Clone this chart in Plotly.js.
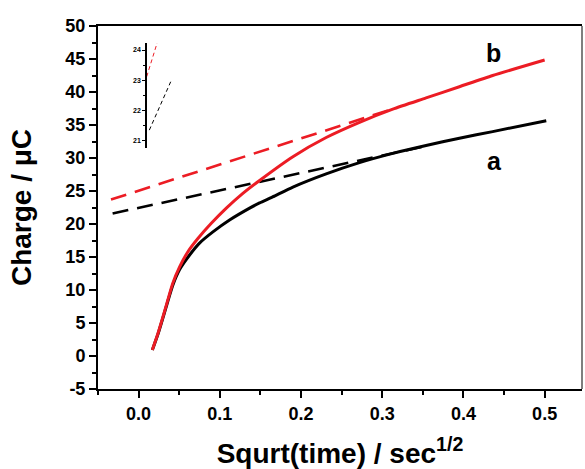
<!DOCTYPE html>
<html>
<head>
<meta charset="utf-8">
<script src="https://cdn.plot.ly/plotly-3.0.1.min.js"></script>
<style>html,body{margin:0;padding:0;background:#fff;}#chart{width:585px;height:469px;}</style>
</head>
<body>
<div id="chart"></div>
<script>
// Curve a (black) : charge vs sqrt(time)
const aX = [0.0169, 0.0238, 0.030, 0.036, 0.042, 0.0505, 0.0628, 0.075, 0.0915, 0.112, 0.1367, 0.149, 0.165, 0.190, 0.231, 0.272, 0.313, 0.354, 0.395, 0.436, 0.502];
const aY = [0.91, 3.3, 5.8, 8.3, 10.7, 13.1, 15.3, 17.1, 18.8, 20.6, 22.4, 23.2, 24.1, 25.6, 27.6, 29.3, 30.7, 31.9, 33.0, 34.0, 35.65];
// Curve b (red)
const bX = [0.0169, 0.0238, 0.030, 0.036, 0.042, 0.0505, 0.0607, 0.073, 0.0895, 0.108, 0.128, 0.149, 0.190, 0.231, 0.272, 0.313, 0.354, 0.395, 0.436, 0.500];
const bY = [0.91, 3.4, 5.95, 8.5, 11.0, 13.5, 15.8, 17.8, 20.1, 22.4, 24.6, 26.6, 30.2, 33.1, 35.4, 37.4, 39.1, 40.8, 42.5, 44.85];
// Linear fits (dashed)
const aFitX = [-0.032, 0.350];
const aFitY = [21.6, 31.7];
const bFitX = [-0.034, 0.317];
const bFitY = [23.7, 37.6];
// Inset: zoom on intercepts
const insetRedX = [0, 0.35];
const insetRedY = [23.12, 24.24];
const insetBlackX = [0.087, 0.8];
const insetBlackY = [21.35, 22.95];
// Tick labels
const yTickVals = [-5, 0, 5, 10, 15, 20, 25, 30, 35, 40, 45, 50];
const yTickText = ['-5', '0', '5', '10', '15', '20', '25', '30', '35', '40', '45', '50'];
// Labels
const labelText = ['a', 'b'];
const labelX = [0.438, 0.437];
const labelY = [29.6, 45.9];

const RED = '#ec1c24';
const FONT = 'Liberation Sans, Arial, Helvetica, sans-serif';

const traces = [
  {x: aFitX, y: aFitY, mode: 'lines', line: {color: '#000', width: 2.6, dash: '16px,9px'}, showlegend: false, hoverinfo: 'skip'},
  {x: bFitX, y: bFitY, mode: 'lines', line: {color: RED, width: 2.6, dash: '16px,9px'}, showlegend: false, hoverinfo: 'skip'},
  {x: aX, y: aY, mode: 'lines', line: {color: '#000', width: 3, shape: 'spline', smoothing: 0.6}, name: 'a', showlegend: false},
  {x: bX, y: bY, mode: 'lines', line: {color: RED, width: 3, shape: 'spline', smoothing: 0.6}, name: 'b', showlegend: false},
  {x: insetRedX, y: insetRedY, xaxis: 'x2', yaxis: 'y2', mode: 'lines', line: {color: RED, width: 1, dash: '4px,3px'}, showlegend: false, hoverinfo: 'skip'},
  {x: insetBlackX, y: insetBlackY, xaxis: 'x2', yaxis: 'y2', mode: 'lines', line: {color: '#000', width: 1, dash: '4px,3px'}, showlegend: false, hoverinfo: 'skip'}
];

const layout = {
  width: 585, height: 469,
  margin: {l: 98, r: 3, t: 26, b: 80},
  paper_bgcolor: '#fff', plot_bgcolor: '#fff',
  font: {family: FONT, color: '#000'},
  showlegend: false,
  xaxis: {
    range: [-0.05, 0.546], showgrid: false, zeroline: false,
    showline: true, linecolor: '#000', linewidth: 2, mirror: true,
    ticks: 'outside', ticklen: 7, tickwidth: 2, tickcolor: '#000',
    dtick: 0.1, tick0: 0, tickformat: '.1f',
    minor: {dtick: 0.05, tick0: 0, ticks: 'outside', ticklen: 4, tickwidth: 2, tickcolor: '#000'},
    tickfont: {size: 18, weight: 'bold', family: FONT},
    title: {text: 'Squrt(time) / sec<sup>1/2</sup>', font: {size: 28, weight: 'bold', family: FONT}, standoff: 22}
  },
  yaxis: {
    range: [-5, 50], showgrid: false, zeroline: false,
    showline: true, linecolor: '#000', linewidth: 2,
    ticks: 'outside', ticklen: 7, tickwidth: 2, tickcolor: '#000',
    tickmode: 'array', tickvals: yTickVals, ticktext: yTickText,
    minor: {dtick: 2.5, tick0: 0, ticks: 'outside', ticklen: 4, tickwidth: 2, tickcolor: '#000'},
    tickfont: {size: 18, weight: 'bold', family: FONT},
    title: {text: 'Charge / μC', font: {size: 28, weight: 'bold', family: FONT}, standoff: 26}
  },
  xaxis2: {domain: [0.1006, 0.1626], range: [0, 1], visible: false, anchor: 'y2'},
  yaxis2: {
    domain: [0.664, 0.953], range: [20.76, 24.23], anchor: 'x2',
    showgrid: false, zeroline: false, showline: true, linecolor: '#000', linewidth: 1.5,
    ticks: 'outside', ticklen: 3, tickwidth: 1, tickcolor: '#000', dtick: 1, tick0: 0,
    minor: {dtick: 0.5, ticks: 'outside', ticklen: 2, tickwidth: 1, tickcolor: '#000'},
    tickfont: {size: 7, weight: 'bold', family: FONT}
  },
  shapes: [
    {type: 'line', xref: 'paper', yref: 'paper', x0: 1, x1: 1, y0: 0, y1: 1, line: {color: '#555', width: 1.5}}
  ],
  annotations: labelText.map((t, i) => ({
    text: t, x: labelX[i], y: labelY[i], xref: 'x', yref: 'y', showarrow: false,
    font: {size: 25, weight: 'bold', family: FONT, color: '#000'}, xanchor: 'center', yanchor: 'middle'
  }))
};

Plotly.newPlot('chart', traces, layout, {staticPlot: true, displayModeBar: false});
</script>
</body>
</html>
